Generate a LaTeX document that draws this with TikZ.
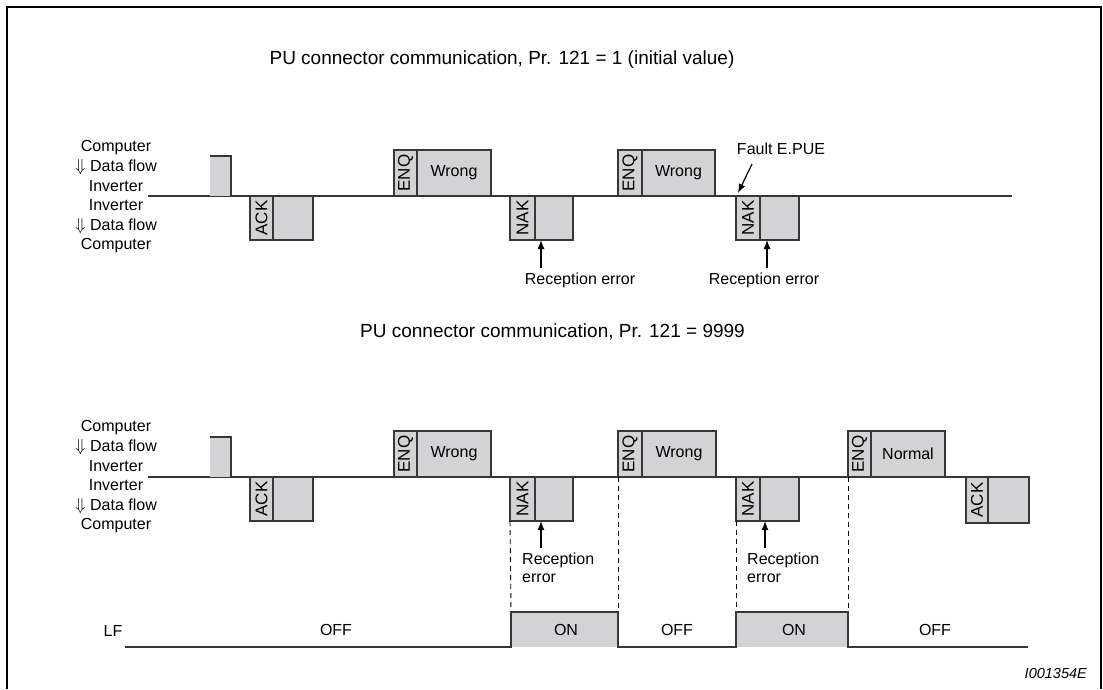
\documentclass[tikz,border=0pt]{standalone}
\usepackage{fontspec}
\setmainfont{Liberation Sans}
\usetikzlibrary{arrows.meta}
\definecolor{boxfill}{RGB}{211,211,213}
\definecolor{linec}{RGB}{55,55,55}
\begin{document}
\begin{tikzpicture}[x=1pt,y=-1pt,
  cell/.style={draw=linec, fill=boxfill, line width=1.2pt, inner sep=0pt, outer sep=0pt, anchor=north west},
  lbl/.style={font=\fontsize{16}{18}\selectfont, inner sep=0pt},
  rlbl/.style={font=\fontsize{17}{18}\selectfont, inner sep=0pt, rotate=90},
  ttl/.style={font=\fontsize{19}{22}\selectfont, inner sep=0pt},
  side/.style={font=\fontsize{16}{19.6}\selectfont, inner sep=0pt, align=center},
  base/.style={draw=linec, line width=1.3pt},
  arr/.style={draw=black, line width=1.2pt, -{Latex[length=9pt,width=7pt]}},
  dsh/.style={draw=black, line width=0.9pt, dash pattern=on 5pt off 4pt},
  onbox/.style={fill=boxfill, inner sep=0pt, outer sep=0pt, anchor=north west, minimum height=35pt},
]
\useasboundingbox (0,0) rectangle (1103,689);
% frame
\draw[line width=2.5pt] (7,689) -- (7,7) -- (1101,7) -- (1101,689);

% titles
\node[ttl] (title1) at (502,60) {PU connector communication, Pr. 121 = 1 (initial value)};
\node[ttl, anchor=west] (title2) at (360,332) {PU connector communication, Pr. 121 = 9999};

% side labels
\node[side] (tside) at (116,197) {Computer\\$\Downarrow$ Data flow\\Inverter\\Inverter\\$\Downarrow$ Data flow\\Computer};
\node[side] (bside) at (116,477) {Computer\\$\Downarrow$ Data flow\\Inverter\\Inverter\\$\Downarrow$ Data flow\\Computer};

% ================= TOP =================
\draw[base] (148,196) -- (1012,196);
\fill[boxfill] (210,156) rectangle (231,196);
\draw[base] (210,156) -- (231,156) -- (231,196);

\node[cell, minimum width=23pt, minimum height=44pt] (tackl) at (250,196) {};
\node[cell, minimum width=40pt, minimum height=44pt] (tackd) at (tackl.north east) {};
\node[rlbl] (tackt) at (tackl.center) {ACK};

\node[cell, minimum width=23pt, minimum height=46pt] (tenq1l) at (394,150) {};
\node[cell, minimum width=74pt, minimum height=46pt] (tenq1d) at (tenq1l.north east) {};
\node[rlbl] (tenq1t) at (tenq1l.center) {ENQ};
\node[lbl] (twr1) at (tenq1d.center) {Wrong};

\node[cell, minimum width=25pt, minimum height=44pt] (tnak1l) at (510,196) {};
\node[cell, minimum width=38pt, minimum height=44pt] (tnak1d) at (tnak1l.north east) {};
\node[rlbl] (tnak1t) at (tnak1l.center) {NAK};

\node[cell, minimum width=24pt, minimum height=46pt] (tenq2l) at (618,150) {};
\node[cell, minimum width=73pt, minimum height=46pt] (tenq2d) at (tenq2l.north east) {};
\node[rlbl] (tenq2t) at (tenq2l.center) {ENQ};
\node[lbl] (twr2) at (tenq2d.center) {Wrong};

\node[cell, minimum width=24pt, minimum height=44pt] (tnak2l) at (736,196) {};
\node[cell, minimum width=39pt, minimum height=44pt] (tnak2d) at (tnak2l.north east) {};
\node[rlbl] (tnak2t) at (tnak2l.center) {NAK};

\node[lbl] (tre1) at (580,280) {Reception error};
\coordinate (tax1) at (541,268);
\draw[arr] (tax1) -- (tax1 |- tnak1d.south);
\node[lbl] (tre2) at (764,280) {Reception error};
\coordinate (tax2) at (767,268);
\draw[arr] (tax2) -- (tax2 |- tnak2d.south);

\node[lbl] (fault) at (781,149) {Fault E.PUE};
\coordinate (fa) at (752,164);
\coordinate (fb) at (738,193);
\draw[arr] (fa) -- (fb);

% ================= BOTTOM =================
\draw[base] (148,477) -- (1012,477);
\fill[boxfill] (210,437) rectangle (231,477);
\draw[base] (210,437) -- (231,437) -- (231,477);

\node[cell, minimum width=23pt, minimum height=44pt] (backl) at (250,477) {};
\node[cell, minimum width=40pt, minimum height=44pt] (backd) at (backl.north east) {};
\node[rlbl] (backt) at (backl.center) {ACK};

\node[cell, minimum width=23pt, minimum height=46pt] (benq1l) at (394,431) {};
\node[cell, minimum width=74pt, minimum height=46pt] (benq1d) at (benq1l.north east) {};
\node[rlbl] (benq1t) at (benq1l.center) {ENQ};
\node[lbl] (bwr1) at (benq1d.center) {Wrong};

\node[cell, minimum width=25pt, minimum height=44pt] (bnak1l) at (510,477) {};
\node[cell, minimum width=38pt, minimum height=44pt] (bnak1d) at (bnak1l.north east) {};
\node[rlbl] (bnak1t) at (bnak1l.center) {NAK};

\node[cell, minimum width=24pt, minimum height=46pt] (benq2l) at (618,431) {};
\node[cell, minimum width=74pt, minimum height=46pt] (benq2d) at (benq2l.north east) {};
\node[rlbl] (benq2t) at (benq2l.center) {ENQ};
\node[lbl] (bwr2) at (benq2d.center) {Wrong};

\node[cell, minimum width=24pt, minimum height=44pt] (bnak2l) at (736,477) {};
\node[cell, minimum width=39pt, minimum height=44pt] (bnak2d) at (bnak2l.north east) {};
\node[rlbl] (bnak2t) at (bnak2l.center) {NAK};

\node[cell, minimum width=23pt, minimum height=46pt] (benq3l) at (848,431) {};
\node[cell, minimum width=74pt, minimum height=46pt] (benq3d) at (benq3l.north east) {};
\node[rlbl] (benq3t) at (benq3l.center) {ENQ};
\node[lbl] (bnorm) at (benq3d.center) {Normal};

\node[cell, minimum width=22pt, minimum height=46pt] (back2l) at (966,477) {};
\node[cell, minimum width=41pt, minimum height=46pt] (back2d) at (back2l.north east) {};
\node[rlbl] (back2t) at (back2l.center) {ACK};

\node[lbl, align=left, anchor=north west] (bre1) at (522,553) {Reception\\error};
\coordinate (bax1) at (541,548);
\draw[arr] (bax1) -- (bax1 |- bnak1d.south);
\node[lbl, align=left, anchor=north west] (bre2) at (747,553) {Reception\\error};
\coordinate (bax2) at (765,548);
\draw[arr] (bax2) -- (bax2 |- bnak2d.south);

% ================= LF =================
\node[onbox, minimum width=107pt] (on1) at (511,612) {};
\node[onbox, minimum width=112pt] (on2) at (736,612) {};
\draw[dsh] (bnak1l.south west) -- (on1.north west);
\draw[dsh] (benq2l.south west) -- (on1.north east);
\draw[dsh] (bnak2l.south west) -- (on2.north west);
\draw[dsh] (benq3l.south west) -- (on2.north east);
\coordinate (lfs) at (125,647);
\coordinate (lfe) at (1028,647);
\draw[base] (lfs) -- (on1.south west) -- (on1.north west) -- (on1.north east) -- (on1.south east)
  -- (on2.south west) -- (on2.north west) -- (on2.north east) -- (on2.south east) -- (lfe);

\node[lbl] (lf) at (113,631) {LF};
\node[lbl] (off1) at (336,630) {OFF};
\node[lbl] (on1t) at (566,630) {ON};
\node[lbl] (off2) at (677,630) {OFF};
\node[lbl] (on2t) at (794,630) {ON};
\node[lbl] (off3) at (935,630) {OFF};

\node[font=\fontsize{14.5}{16}\selectfont\itshape, inner sep=0pt, anchor=east] (code) at (1087,673) {I001354E};
\end{tikzpicture}
\end{document}
